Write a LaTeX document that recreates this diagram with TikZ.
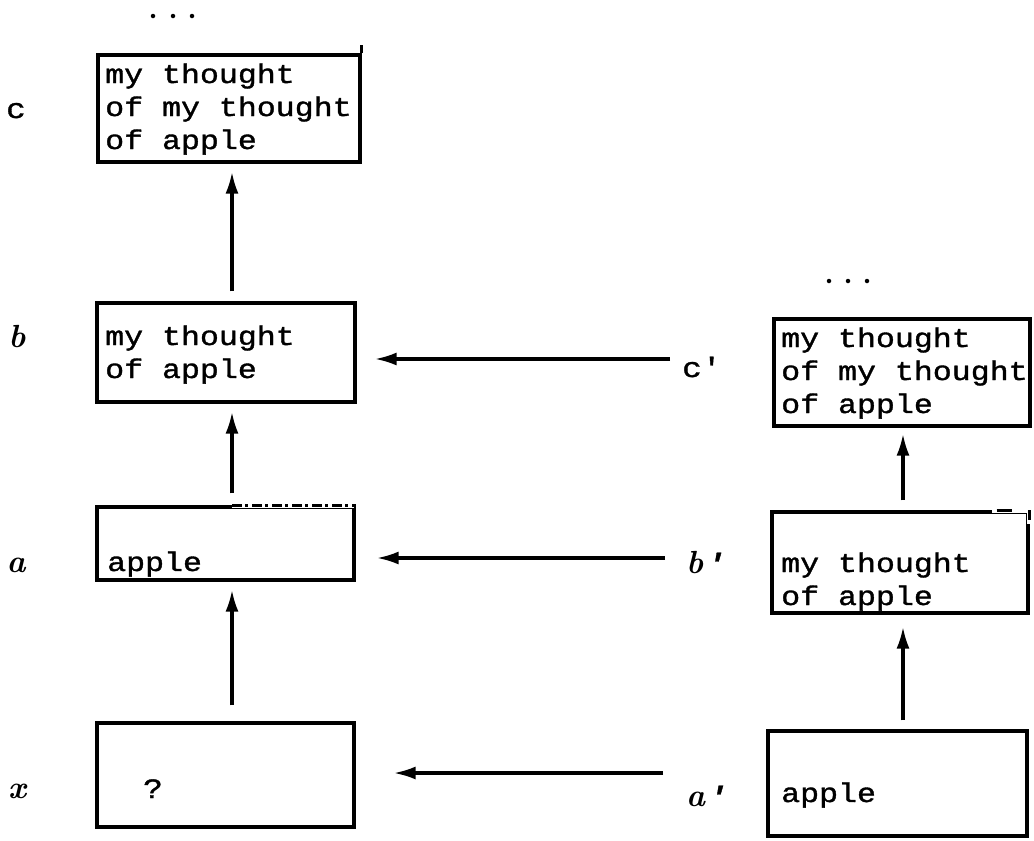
\documentclass[tikz,border=0pt]{standalone}
\usepackage{fontspec}
\newfontfamily\tw{Liberation Mono}[FakeStretch=1.17, FakeBold=1.3]
\usetikzlibrary{arrows.meta}
\newcommand\boxtext[1]{\vtop{\tw\fontsize{27}{33}\selectfont\baselineskip=33pt\relax #1}}
\begin{document}
\begin{tikzpicture}[x=1pt,y=-1pt,
  box/.style={draw, line width=3.2pt, rectangle, inner sep=0pt, anchor=center},
  arr/.style={line width=3.2pt, -{Latex[length=22pt,width=13pt]}},
  txt/.style={anchor=base west, inner sep=0pt},
  lbl/.style={font=\fontsize{32}{32}\selectfont\bfseries\itshape, anchor=base, inner sep=0pt},
  tlbl/.style={font=\tw\fontsize{28}{28}\selectfont, anchor=base, inner sep=0pt},
  plbl/.style={anchor=base west, inner sep=0pt},
  dotm/.style={circle, fill, inner sep=0pt, minimum size=4.5pt},
  wipe/.style={white, line width=5pt}]
\useasboundingbox (0,0) rectangle (1034,841);
\coordinate (colL) at (232,0);
\coordinate (colR) at (903,0);

% left column boxes
\node[box, minimum width=262pt, minimum height=107pt] (C) at (229,108.5) {};
\node[box, minimum width=258pt, minimum height=99pt] (B) at (226,352.5) {};
\node[box, minimum width=257pt, minimum height=73pt] (A) at (225.5,543.5) {};
\node[box, minimum width=257pt, minimum height=104pt] (X) at (225.5,775) {};

% right column boxes
\node[box, minimum width=256pt, minimum height=107pt] (Cp) at (902,372.5) {};
\node[box, minimum width=256pt, minimum height=101pt] (Bp) at (900,562.5) {};
\node[box, minimum width=259pt, minimum height=105pt] (Ap) at (897.5,783.5) {};

% irregularities of the hand-drawn boxes
\draw[line width=3.2pt] (C.north east) -- ++(0,-8);
\draw[wipe] (A.north -| colL) -- ([xshift=-2pt]A.north east);
\draw[line width=2.6pt, dash pattern=on 10pt off 3pt on 3pt off 4pt] (A.north -| colL) -- (A.north east);
\draw[wipe] ([xshift=-38pt]Bp.north east) -- (Bp.north east) -- ([yshift=-14pt]Bp.north east);
\draw[line width=2.6pt] ([xshift=-33pt]Bp.north east) -- ([xshift=-18pt]Bp.north east);
\draw[line width=3.2pt] (Bp.north east) -- ([yshift=-10pt]Bp.north east);

% texts
\node[txt] (tC) at (105,83) {\boxtext{\hbox{my thought}\hbox{of my thought}\hbox{of apple}}};
\node[txt] (tB) at (105,345) {\boxtext{\hbox{my thought}\hbox{of apple}}};
\node[txt] (tA) at (107,571) {\boxtext{\hbox{apple}}};
\node[tlbl] (tX) at (153,798) {?};
\node[txt] (tCp) at (781,347) {\boxtext{\hbox{my thought}\hbox{of my thought}\hbox{of apple}}};
\node[txt] (tBp) at (781,572) {\boxtext{\hbox{my thought}\hbox{of apple}}};
\node[txt] (tAp) at (781,802) {\boxtext{\hbox{apple}}};

% row labels
\node[tlbl] (lc) at (16,118) {c};
\node[lbl] (lb) at (17,347) {b};
\node[lbl] (la) at (16,572) {a};
\node[lbl] (lx) at (17,798) {x};
\node[plbl] (lcp) at (682,377) {\tw\fontsize{28}{28}\selectfont c'};
\node[plbl] (lbp) at (686,573) {\fontsize{32}{32}\selectfont\bfseries\itshape b\hspace{3pt}\tw\fontsize{28}{28}\selectfont'};
\node[plbl] (lap) at (686,806) {\fontsize{32}{32}\selectfont\bfseries\itshape a\hspace{3pt}\tw\fontsize{28}{28}\selectfont'};

% ellipses
\foreach \i/\xx in {1/153,2/173,3/192} \node[dotm] (dl\i) at (\xx,16) {};
\foreach \i/\xx in {1/829,2/848,3/867} \node[dotm] (dr\i) at (\xx,281) {};

% vertical arrows
\draw[arr, shorten <=10pt, shorten >=8pt] (B.north -| colL) -- (C.south -| colL);
\draw[arr, shorten <=12pt, shorten >=8pt] (A.north -| colL) -- (B.south -| colL);
\draw[arr, shorten <=16pt, shorten >=8pt] (X.north -| colL) -- (A.south -| colL);
\draw[arr, shorten <=10pt, shorten >=6pt] (Bp.north -| colR) -- (Cp.south -| colR);
\draw[arr, shorten <=9pt, shorten >=12pt] (Ap.north -| colR) -- (Bp.south -| colR);

% horizontal arrows
\coordinate (sc) at (670,359);
\coordinate (sb) at (665,558);
\coordinate (sa) at (663,773);
\draw[arr, shorten >=18pt] (sc) -- (sc -| B.east);
\draw[arr, shorten >=21pt] (sb) -- (sb -| A.east);
\draw[arr, shorten >=38pt] (sa) -- (sa -| X.east);
\end{tikzpicture}
\end{document}
